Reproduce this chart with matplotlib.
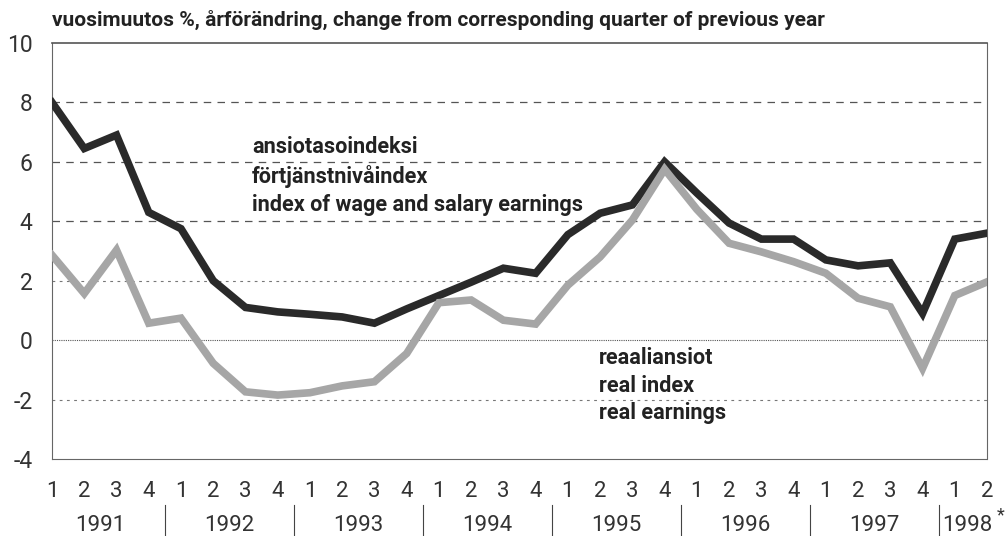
import matplotlib
matplotlib.use("Agg")
import matplotlib.pyplot as plt
import matplotlib.transforms as mtransforms

plt.rcParams['font.family'] = ['Roboto', 'DejaVu Sans']

# quarters 1991 Q1 .. 1998 Q2
quarters = [1, 2, 3, 4] * 7 + [1, 2]
years = ['1991', '1992', '1993', '1994', '1995', '1996', '1997', '1998']

# index of wage and salary earnings, % change
nominal = [8.0, 6.45, 6.9, 4.3, 3.75, 2.0, 1.1, 0.95, 0.87, 0.78, 0.57, 1.05,
           1.5, 1.95, 2.42, 2.25, 3.55, 4.27, 4.55, 6.0, 4.95, 3.94, 3.4, 3.4,
           2.7, 2.5, 2.6, 0.9, 3.4, 3.6]
# real earnings, % change
real = [2.86, 1.57, 3.03, 0.57, 0.74, -0.78, -1.74, -1.85, -1.77, -1.54, -1.4, -0.45,
        1.26, 1.35, 0.67, 0.54, 1.85, 2.8, 4.04, 5.75, 4.4, 3.26, 2.97, 2.64,
        2.25, 1.41, 1.12, -0.95, 1.5, 1.96]

x = list(range(1, len(quarters) + 1))

fig = plt.figure(figsize=(10.08, 5.36), dpi=100)
ax = fig.add_axes([0.0516, 0.1437, 0.9276, 0.7761])

ax.set_xlim(1, len(x))
ax.set_ylim(-4, 10)

# grid lines
for v in [8, 6, 4]:
    ax.axhline(v, color='#555555', lw=0.9, ls=(0, (6, 5)), zorder=1)
for v in [2, -2]:
    ax.axhline(v, color='#777777', lw=0.8, ls=(0, (2.5, 4)), zorder=1)
ax.axhline(0, color='#555555', lw=0.8, ls=(0, (1, 1)), zorder=1)

ax.plot(x, nominal, color='#2a2a2a', lw=5.5, solid_joinstyle='miter', zorder=3)
ax.plot(x, real, color='#a6a6a6', lw=5.5, solid_joinstyle='miter', zorder=4)

for s in ['left', 'right', 'bottom']:
    ax.spines[s].set_linestyle((0, (1, 1)))
    ax.spines[s].set_color('#666666')
    ax.spines[s].set_linewidth(0.8)
ax.spines['top'].set_color('#555555')
ax.spines['top'].set_linewidth(1.2)

ax.set_yticks(range(-4, 11, 2))
ax.set_yticklabels([str(v) for v in range(-4, 11, 2)], fontsize=16.5, color='#333333')
ax.set_xticks(x)
ax.set_xticklabels([str(q) for q in quarters], fontsize=16, color='#333333')
ax.tick_params(length=0)
ax.tick_params(axis='x', pad=16)
ax.tick_params(axis='y', pad=14)

trans = mtransforms.blended_transform_factory(ax.transData, ax.transAxes)
# year labels and separators
for i, yr in enumerate(years):
    start = 1 + 4 * i
    n = 4 if i < len(years) - 1 else 2
    mid = start + (n - 1) / 2
    if i == len(years) - 1:
        mid -= 0.12
    ax.text(mid, -0.16, yr, transform=trans,
            ha='center', va='center', fontsize=16, color='#333333')
    if i > 0:
        ax.plot([start - 0.5, start - 0.5], [-0.11, -0.19], transform=trans,
                color='#444444', lw=0.8, clip_on=False)
ax.text(len(x) + 0.42, -0.135, '*', transform=trans, ha='center', va='center',
        fontsize=13, color='#333333')

ax.text(1, 1.056, 'vuosimuutos %, årförändring, change from corresponding quarter of previous year',
        transform=trans, ha='left', va='center', fontsize=15,
        fontweight='bold', color='#222222')

for k, t in enumerate(['ansiotasoindeksi', 'förtjänstnivåindex', 'index of wage and salary earnings']):
    ax.text(7.2, 6.5 - k * 0.98, t, ha='left', va='center', fontsize=15.6,
            fontweight='bold', color='#222222')
for k, t in enumerate(['reaaliansiot', 'real index', 'real earnings']):
    ax.text(17.97, -0.6 - k * 0.93, t, ha='left', va='center', fontsize=15.6,
            fontweight='bold', color='#222222')

fig.savefig('out.png', dpi=100)
